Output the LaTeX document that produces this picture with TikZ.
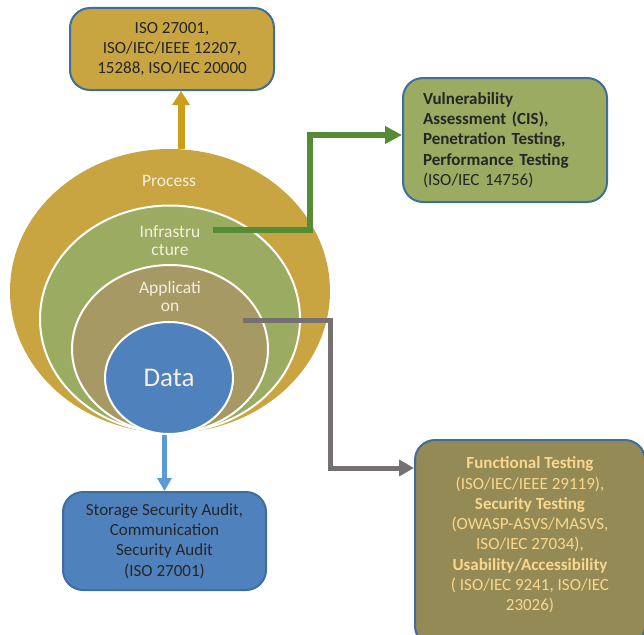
\documentclass[tikz,border=0pt]{standalone}
\usepackage{fontspec}
\setmainfont{Carlito}
\usetikzlibrary{shapes.geometric,arrows.meta}
\definecolor{procgold}{HTML}{C9A542}
\definecolor{infgreen}{HTML}{9BAB62}
\definecolor{appkhaki}{HTML}{A69964}
\definecolor{datablue}{HTML}{4F81BD}
\definecolor{boxblue}{HTML}{3E6D9E}
\definecolor{testolive}{HTML}{948A55}
\definecolor{testtxt}{HTML}{F9D88D}
\definecolor{arrowgreen}{HTML}{558B34}
\definecolor{arrowgray}{HTML}{767171}
\definecolor{arrowblue}{HTML}{5B9BD5}
\definecolor{goldarrow}{HTML}{CC9F1A}
\definecolor{boxtxt}{HTML}{262626}
\definecolor{lbltxt}{HTML}{F4EFDF}
\begin{document}
\begin{tikzpicture}[x=1pt,y=-1pt,
  ring/.style={ellipse, draw=white, line width=2pt, inner sep=0pt},
  box/.style={rounded corners=20pt, draw=boxblue, line width=2pt, align=center, inner sep=0pt},
  boxfont/.style={font=\fontsize{17}{20.3}\selectfont},
  lbl/.style={text=lbltxt, align=center, font=\fontsize{17.5}{18}\selectfont},
  conn/.style={line width=#1pt},
]
\useasboundingbox (0,0) rectangle (644,634);
\clip (0,0) rectangle (644,634);

% nested rings
\node[ring, draw=none, fill=procgold, minimum width=320pt, minimum height=284pt] (process) at (170,291) {};
\node[ring, fill=infgreen, minimum width=260pt, minimum height=227pt] (infra) at (170,319) {};
\node[ring, fill=appkhaki, minimum width=196pt, minimum height=168pt] (app) at (170,349) {};
\node[ring, fill=datablue, minimum width=128pt, minimum height=112pt] (data) at (169,378) {};

\node[lbl] (plbl) at (169,181) {Process};
\node[lbl] (ilbl) at (170,241) {Infrastru\\cture};
\node[lbl] (albl) at (170,296) {Applicati\\on};
\node[lbl, font=\fontsize{27}{30}\selectfont] (dlbl) at (169,378) {Data};

% boxes
\node[box, boxfont, fill=procgold, text=boxtxt, minimum width=204pt, minimum height=82pt] (iso) at (172,49)
  {ISO 27001,\\ISO/IEC/IEEE 12207,\\15288, ISO/IEC 20000};
\node[box, boxfont, fill=infgreen, text=boxtxt, minimum width=204pt, minimum height=124pt, text width=164pt, align=left] (vuln) at (505,140)
  {\textbf{Vulnerability}\\\textbf{Assessment (CIS),}\\\textbf{Penetration Testing,}\\\textbf{Performance Testing}\\(ISO/IEC 14756)};
\node[box, boxfont, fill=datablue, text=boxtxt, minimum width=203pt, minimum height=98pt] (storage) at (164.5,541)
  {Storage Security Audit,\\Communication\\Security Audit\\(ISO 27001)};
\node[box, fill=testolive, minimum width=230pt, minimum height=206pt] (test) at (530,543) {};
\node[boxfont, text=testtxt, align=center] (testlbl) at (530,535)
  {\textbf{Functional Testing}\\(ISO/IEC/IEEE 29119),\\\textbf{Security Testing}\\(OWASP-ASVS/MASVS,\\ISO/IEC 27034),\\\textbf{Usability/Accessibility}\\( ISO/IEC 9241, ISO/IEC\\23026)};

% connectors
\coordinate (procout) at (181,149);
\coordinate (infout) at (213,230);
\coordinate (appout) at (243,320);
\draw[conn=7, draw=goldarrow, -{Triangle[length=14pt,width=17pt]}] (procout) -- (procout |- iso.south);
\draw[conn=6, draw=arrowgreen, -{Triangle[length=17pt,width=17pt]}] (infout) -| (310,135) -- (vuln.west |- 310,135);
\draw[conn=5, draw=arrowgray, -{Triangle[length=15pt,width=16pt]}] (appout) -| (330,468) -- (test.west |- 330,468);
\draw[conn=5, draw=arrowblue, -{Triangle[length=13pt,width=14pt]}] (storage.north |- data.south) -- (storage.north);
\end{tikzpicture}
\end{document}
